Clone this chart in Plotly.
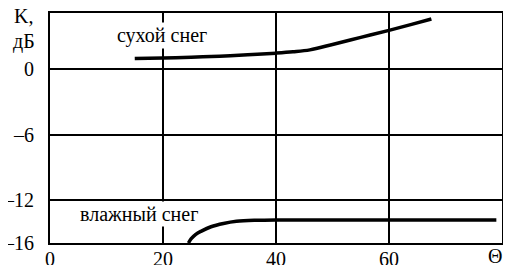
import plotly.graph_objects as go

# Dry snow curve (сухой снег)
dry_theta = [15, 20, 25, 30, 35, 40, 43, 46, 50, 55, 60, 64, 67.5]
dry_k = [1.0, 1.05, 1.12, 1.22, 1.35, 1.5, 1.62, 1.8, 2.3, 2.95, 3.6, 4.15, 4.65]

# Wet snow curve (влажный снег)
wet_theta = [24.5, 25.0, 25.8, 26.8, 28.5, 30.7, 33.0, 36.5, 40.0, 79.0]
wet_k = [-16.0, -15.6, -15.2, -14.9, -14.5, -14.2, -14.0, -13.9, -13.87, -13.87]

x_tickvals = [0, 20, 40, 60, 80]
x_ticktext = ["0", "20", "40", "60", ""]
x_axis_title = "Θ°"
y_tickvals = [0, -6, -12, -16]
y_ticktext = ["0", "–6", "–12", "–16"]

FONT = "Liberation Serif"

fig = go.Figure()
fig.add_trace(go.Scatter(x=dry_theta, y=dry_k, mode="lines",
                         line=dict(color="black", width=3.5, shape="spline"),
                         showlegend=False))
fig.add_trace(go.Scatter(x=wet_theta, y=wet_k, mode="lines",
                         line=dict(color="black", width=3.5, shape="spline"),
                         showlegend=False))

fig.add_annotation(x=19.8, y=3.1, text="сухой снег", showarrow=False,
                   font=dict(family=FONT, size=20, color="black"),
                   bgcolor="white", borderpad=1)
fig.add_annotation(x=15.7, y=-13.3, text="влажный снег", showarrow=False,
                   font=dict(family=FONT, size=20, color="black"),
                   bgcolor="white", borderpad=1)
fig.add_annotation(xref="paper", yref="paper", x=-0.058, y=0.985, text="K,",
                   showarrow=False, xanchor="center", yanchor="middle",
                   font=dict(family=FONT, size=20, color="black"))
fig.add_annotation(xref="paper", yref="paper", x=-0.058, y=0.875, text="дБ",
                   showarrow=False, xanchor="center", yanchor="middle",
                   font=dict(family=FONT, size=20, color="black"))
fig.add_annotation(xref="paper", yref="paper", x=0.993, y=0.0, text=x_axis_title,
                   showarrow=False, xanchor="center", yanchor="top",
                   font=dict(family=FONT, size=20, color="black"))

# page body adds an 8px offset; figure is sized so the plot box lands at
# x 50..502, y 13..243 of the 511x265 window
fig.update_layout(
    width=503, height=257,
    margin=dict(l=42, r=9, t=5, b=22, autoexpand=False),
    paper_bgcolor="white", plot_bgcolor="white",
    font=dict(family=FONT, size=20, color="black"),
)
fig.update_xaxes(range=[0, 80], tickvals=x_tickvals, ticktext=x_ticktext,
                 showgrid=True, gridcolor="black", gridwidth=1.5,
                 showline=True, linecolor="black", linewidth=2, mirror=True,
                 zeroline=False, ticks="", ticklabelstandoff=-3,
                 automargin=False, ticklabeloverflow="allow",
                 tickfont=dict(family=FONT, size=20, color="black"))
fig.update_yaxes(range=[-16, 5.2], tickvals=y_tickvals, ticktext=y_ticktext,
                 showgrid=True, gridcolor="black", gridwidth=1.5,
                 showline=True, linecolor="black", linewidth=2, mirror=True,
                 zeroline=False, ticks="", ticklabelstandoff=10,
                 automargin=False, ticklabeloverflow="allow",
                 tickfont=dict(family=FONT, size=20, color="black"))

fig.write_html("out.html")
